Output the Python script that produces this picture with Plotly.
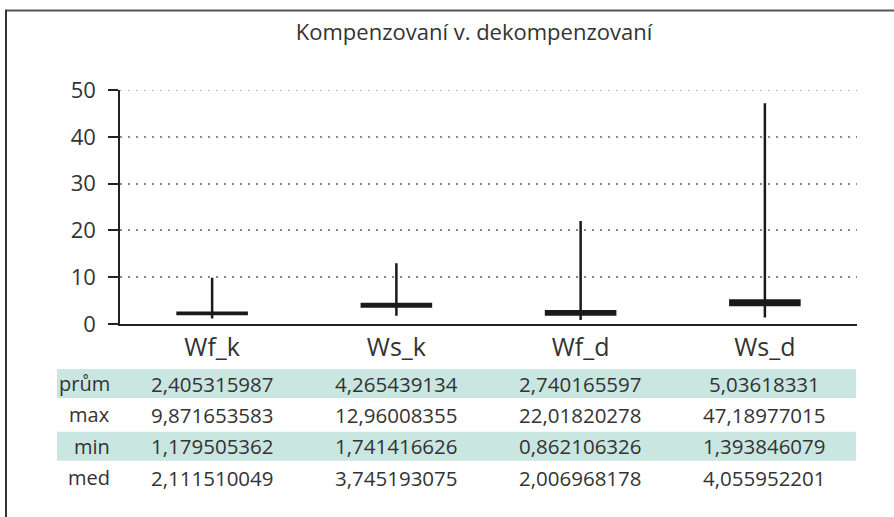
import plotly.graph_objects as go

categories = ["Wf_k", "Ws_k", "Wf_d", "Ws_d"]
prum = [2.405315987, 4.265439134, 2.740165597, 5.03618331]
maxv = [9.871653583, 12.96008355, 22.01820278, 47.18977015]
minv = [1.179505362, 1.741416626, 0.862106326, 1.393846079]
med = [2.111510049, 3.745193075, 2.006968178, 4.055952201]
row_labels = ["prům", "max", "min", "med"]
table_text = [
    ["2,405315987", "4,265439134", "2,740165597", "5,03618331"],
    ["9,871653583", "12,96008355", "22,01820278", "47,18977015"],
    ["1,179505362", "1,741416626", "0,862106326", "1,393846079"],
    ["2,111510049", "3,745193075", "2,006968178", "4,055952201"],
]
title_text = "Kompenzovaní v. dekompenzovaní"
y_ticks = [0, 10, 20, 30, 40, 50]

W, H = 894, 517
ML, MR, MT, MB = 120, 37, 90, 193
PH = H - MT - MB
PW = W - ML - MR

def py(pix):
    return (H - MB - pix) / PH

def px(pix):
    return (pix - ML) / PW

FONT = "Open Sans"
TXT = "#333333"
LINE = "#1a1a1a"

fig = go.Figure()
fig.add_trace(go.Candlestick(
    x=categories, open=prum, high=maxv, low=minv, close=med,
    increasing=dict(line=dict(color=LINE, width=2.5), fillcolor=LINE),
    decreasing=dict(line=dict(color=LINE, width=2.5), fillcolor=LINE),
    whiskerwidth=0, showlegend=False, hoverinfo="skip",
))

shapes = []
# top gridline (plotly omits grid at the range edge)
shapes.append(dict(type="line", xref="paper", yref="y", x0=0, x1=1, y0=y_ticks[-1], y1=y_ticks[-1],
                   line=dict(color="#888888", width=1.5, dash="1.5px,6.5px"), layer="below"))
# outer frame (top and left edges)
shapes.append(dict(type="line", xref="paper", yref="paper",
                   x0=px(5), x1=px(900), y0=py(10.5), y1=py(10.5),
                   line=dict(color="#555555", width=2), layer="above"))
shapes.append(dict(type="line", xref="paper", yref="paper",
                   x0=px(6), x1=px(6), y0=py(10), y1=py(530),
                   line=dict(color="#333333", width=2), layer="above"))
# table bands
row_pitch = 31.4
row_center0 = 383.5
band_h = 29
for i in range(len(row_labels)):
    if i % 2 == 0:
        c = row_center0 + i * row_pitch
        shapes.append(dict(type="rect", xref="paper", yref="paper",
                           x0=px(57), x1=px(856), y0=py(c + band_h / 2), y1=py(c - band_h / 2),
                           fillcolor="#cae6e1", line=dict(width=0), layer="below"))

annotations = []
for i, lab in enumerate(row_labels):
    c = row_center0 + i * row_pitch
    annotations.append(dict(text=lab, xref="paper", yref="paper", x=px(112), y=py(c),
                            xanchor="right", yanchor="middle", showarrow=False,
                            font=dict(family=FONT, size=20, color=TXT)))
    for j, cat in enumerate(categories):
        annotations.append(dict(text=table_text[i][j], xref="x", yref="paper", x=cat, y=py(c),
                                xanchor="center", yanchor="middle", showarrow=False,
                                font=dict(family=FONT, size=20.5, color=TXT)))

fig.update_layout(
    width=W, height=H,
    margin=dict(l=ML, r=MR, t=MT, b=MB),
    paper_bgcolor="white", plot_bgcolor="white",
    title=dict(text=title_text, x=474 / W, xanchor="center", y=1 - 32 / H, yanchor="middle",
               yref="container", font=dict(family=FONT, size=22, color=TXT)),
    font=dict(family=FONT, color=TXT),
    boxgap=0.625, boxgroupgap=0,
    xaxis=dict(type="category", rangeslider=dict(visible=False), showgrid=False,
               showline=True, linecolor="#222222", linewidth=1.5, ticks="",
               tickfont=dict(family=FONT, size=25, color=TXT), fixedrange=True),
    yaxis=dict(range=[0, 50], tickvals=y_ticks, showgrid=True,
               gridcolor="#888888", griddash="1.5px,6.5px", gridwidth=1.5,
               showline=True, linecolor="#222222", linewidth=1.5,
               ticks="outside", ticklen=10, tickcolor="#222222", tickwidth=1.5,
               ticklabelstandoff=8,
               tickfont=dict(family=FONT, size=22, color=TXT), zeroline=False),
    shapes=shapes, annotations=annotations,
)

fig.write_html(
    "out.html",
    config={"displayModeBar": False},
    post_script="document.body.style.margin='0';document.body.style.overflow='hidden';"
                "document.documentElement.style.overflow='hidden';",
)
